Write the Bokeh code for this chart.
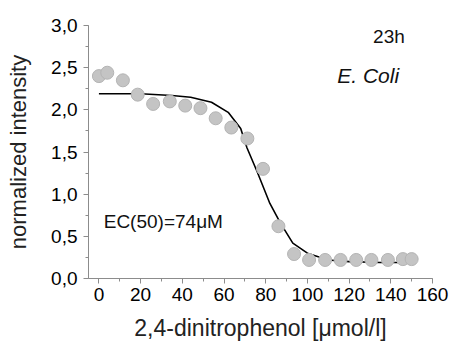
from bokeh.plotting import figure
from bokeh.models import Range1d, FixedTicker, Label
from bokeh.embed import file_html
from bokeh.resources import INLINE

# measured data points
conc = [0, 4, 11.5, 18.6, 26, 34, 41.4, 48.7, 56, 63.5, 71.2, 78.7, 86.1, 93.6,
        100.8, 108.5, 115.9, 123.4, 130.7, 138.6, 145.8, 150]
intensity = [2.40, 2.44, 2.35, 2.18, 2.07, 2.10, 2.05, 2.02, 1.90, 1.79, 1.66, 1.30,
             0.62, 0.29, 0.22, 0.22, 0.22, 0.22, 0.22, 0.22, 0.23, 0.23]

# fitted curve
fit_x = [0, 20, 35, 44, 54, 62, 68, 71, 76, 82, 87, 93, 100, 110, 120, 135, 150]
fit_y = [2.19, 2.19, 2.17, 2.15, 2.09, 1.97, 1.78, 1.55, 1.26, 0.89, 0.66, 0.42,
         0.30, 0.22, 0.20, 0.19, 0.19]

x_ticks = [0, 20, 40, 60, 80, 100, 120, 140, 160]
y_ticks = [0.0, 0.5, 1.0, 1.5, 2.0, 2.5, 3.0]
y_tick_labels = ["0,0", "0,5", "1,0", "1,5", "2,0", "2,5", "3,0"]

FONT = "Liberation Sans"
AXIS_COL = "#8c8c8c"

p = figure(width=451, height=343, output_backend="svg", toolbar_location=None,
           x_range=Range1d(-5, 160), y_range=Range1d(0, 3))
p.min_border_left = 88
p.min_border_right = 19
p.min_border_top = 25
p.min_border_bottom = 64
p.outline_line_color = None
p.grid.visible = False
p.background_fill_color = "white"
p.border_fill_color = "white"

p.line(fit_x, fit_y, line_color="black", line_width=1.6)
p.scatter(conc, intensity, size=13, fill_color="#c4c4c4", line_color="#b4b4b4",
          line_width=1)

xa = p.xaxis[0]
xa.ticker = FixedTicker(ticks=x_ticks, minor_ticks=list(range(0, 161, 10)))
xa.axis_label = "2,4-dinitrophenol [μmol/l]"
ya = p.yaxis[0]
ya.ticker = FixedTicker(ticks=y_ticks, minor_ticks=[i * 0.25 for i in range(13)])
ya.major_label_overrides = {t: l for t, l in zip(y_ticks, y_tick_labels)}
ya.axis_label = "normalized intensity"

for ax in (xa, ya):
    ax.axis_line_color = AXIS_COL
    ax.major_tick_line_color = AXIS_COL
    ax.minor_tick_line_color = AXIS_COL
    ax.major_tick_out = 5
    ax.major_tick_in = 0
    ax.minor_tick_out = 3
    ax.minor_tick_in = 0
    ax.major_label_text_font = FONT
    ax.major_label_text_font_size = "19px"
    ax.major_label_text_color = "black"
    ax.axis_label_text_font = FONT
    ax.axis_label_text_font_style = "normal"
    ax.axis_label_text_color = "#222222"
xa.major_label_standoff = 4
xa.axis_label_text_font_size = "23px"
xa.axis_label_standoff = 11
ya.major_label_standoff = 6
ya.axis_label_text_font_size = "22px"
ya.axis_label_standoff = 17

p.add_layout(Label(x=131.5, y=2.87, text="23h", text_font=FONT, text_font_size="19px",
                   text_baseline="middle", text_color="#111111"))
p.add_layout(Label(x=114.3, y=2.41, text="E. Coli", text_font=FONT, text_font_size="21px",
                   text_font_style="italic", text_baseline="middle", text_color="#111111"))
p.add_layout(Label(x=2.3, y=0.67, text="EC(50)=74μM", text_font=FONT, text_font_size="19px",
                   text_baseline="middle", text_color="#111111"))

open("out.html", "w").write(file_html(p, INLINE))
